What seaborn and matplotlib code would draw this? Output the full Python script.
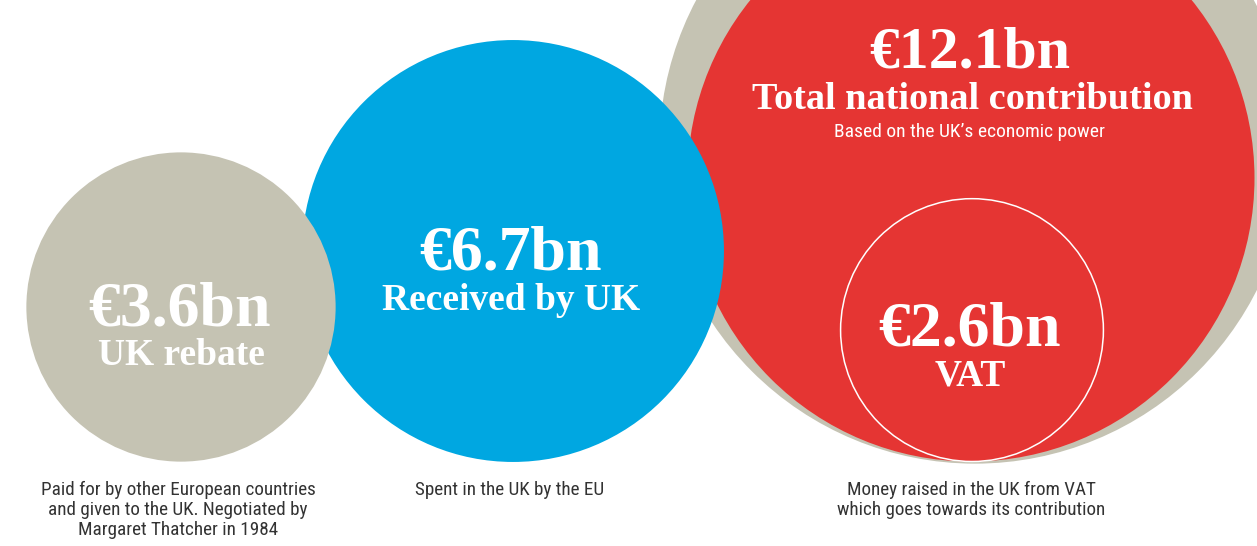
import numpy as np
import matplotlib
matplotlib.use("Agg")
import matplotlib.pyplot as plt
import seaborn as sns
from matplotlib.patches import Circle

sns.set_theme(style="white")

# EU budget figures, € billions
labels = ["UK rebate", "Received by UK", "Total national contribution", "VAT"]
values = [3.6, 6.7, 12.1, 2.6]
amounts = ["€3.6bn", "€6.7bn", "€12.1bn", "€2.6bn"]
gross = 15.0  # unlabelled grey ring behind the red circle (estimated from its size)

notes = {
    "UK rebate": "Paid for by other European countries\nand given to the UK. Negotiated by\nMargaret Thatcher in 1984",
    "Received by UK": "Spent in the UK by the EU",
    "VAT": "Money raised in the UK from VAT\nwhich goes towards its contribution",
}
sub_note = "Based on the UK\u2019s economic power"

grey = "#c5c3b3"
blue = "#00a7e1"
red = "#e53533"

serif = ["Liberation Serif", "DejaVu Serif"]
narrow = ["Liberation Sans Narrow", "Roboto Condensed", "DejaVu Sans"]

k = 81.5  # pixels per sqrt(bn)
r = {lab: k * np.sqrt(v) for lab, v in zip(labels, values)}
r_gross = k * np.sqrt(gross)

fig = plt.figure(figsize=(12.57, 5.46), dpi=100)
ax = fig.add_axes([0, 0, 1, 1])
ax.set_xlim(0, 1257)
ax.set_ylim(546, 0)
ax.set_aspect("equal")
ax.axis("off")

nat = (971, 178)
vat = (972, nat[1] + r["Total national contribution"] - r["VAT"])

ax.add_patch(Circle((975, 148), r_gross, color=grey, lw=0, zorder=1))
ax.add_patch(Circle(nat, r["Total national contribution"], color=red, lw=0, zorder=2))
ax.add_patch(Circle(vat, r["VAT"], facecolor="none", edgecolor="white", lw=1.1, zorder=3))
ax.add_patch(Circle((513, 251), r["Received by UK"], color=blue, lw=0, zorder=4))
ax.add_patch(Circle((181, 307), r["UK rebate"], color=grey, lw=0, zorder=5))

big = dict(color="white", ha="center", va="baseline", family=serif, weight="bold", zorder=10)
ax.text(970, 68, amounts[2], fontsize=43, **big)
ax.text(972, 109, labels[2], fontsize=27.5, **big)
ax.text(970, 137, sub_note, fontsize=14, color="white", ha="center", va="baseline",
        family=narrow, zorder=10)

ax.text(511, 270, amounts[1], fontsize=46, **big)
ax.text(511, 310, labels[1], fontsize=27, **big)

ax.text(180, 325, amounts[0], fontsize=46, **big)
ax.text(181, 365, labels[0], fontsize=27, **big)

ax.text(970, 345, amounts[3], fontsize=46, **big)
ax.text(970, 385, labels[3], fontsize=27, **big)

note_x = {"UK rebate": 178, "Received by UK": 510, "VAT": 971}
for lab, txt in notes.items():
    for i, line in enumerate(txt.split("\n")):
        ax.text(note_x[lab], 495 + i * 20, line, fontsize=13.8, color="#333333",
                ha="center", va="baseline", family=narrow)

fig.savefig("out.png", dpi=100)
